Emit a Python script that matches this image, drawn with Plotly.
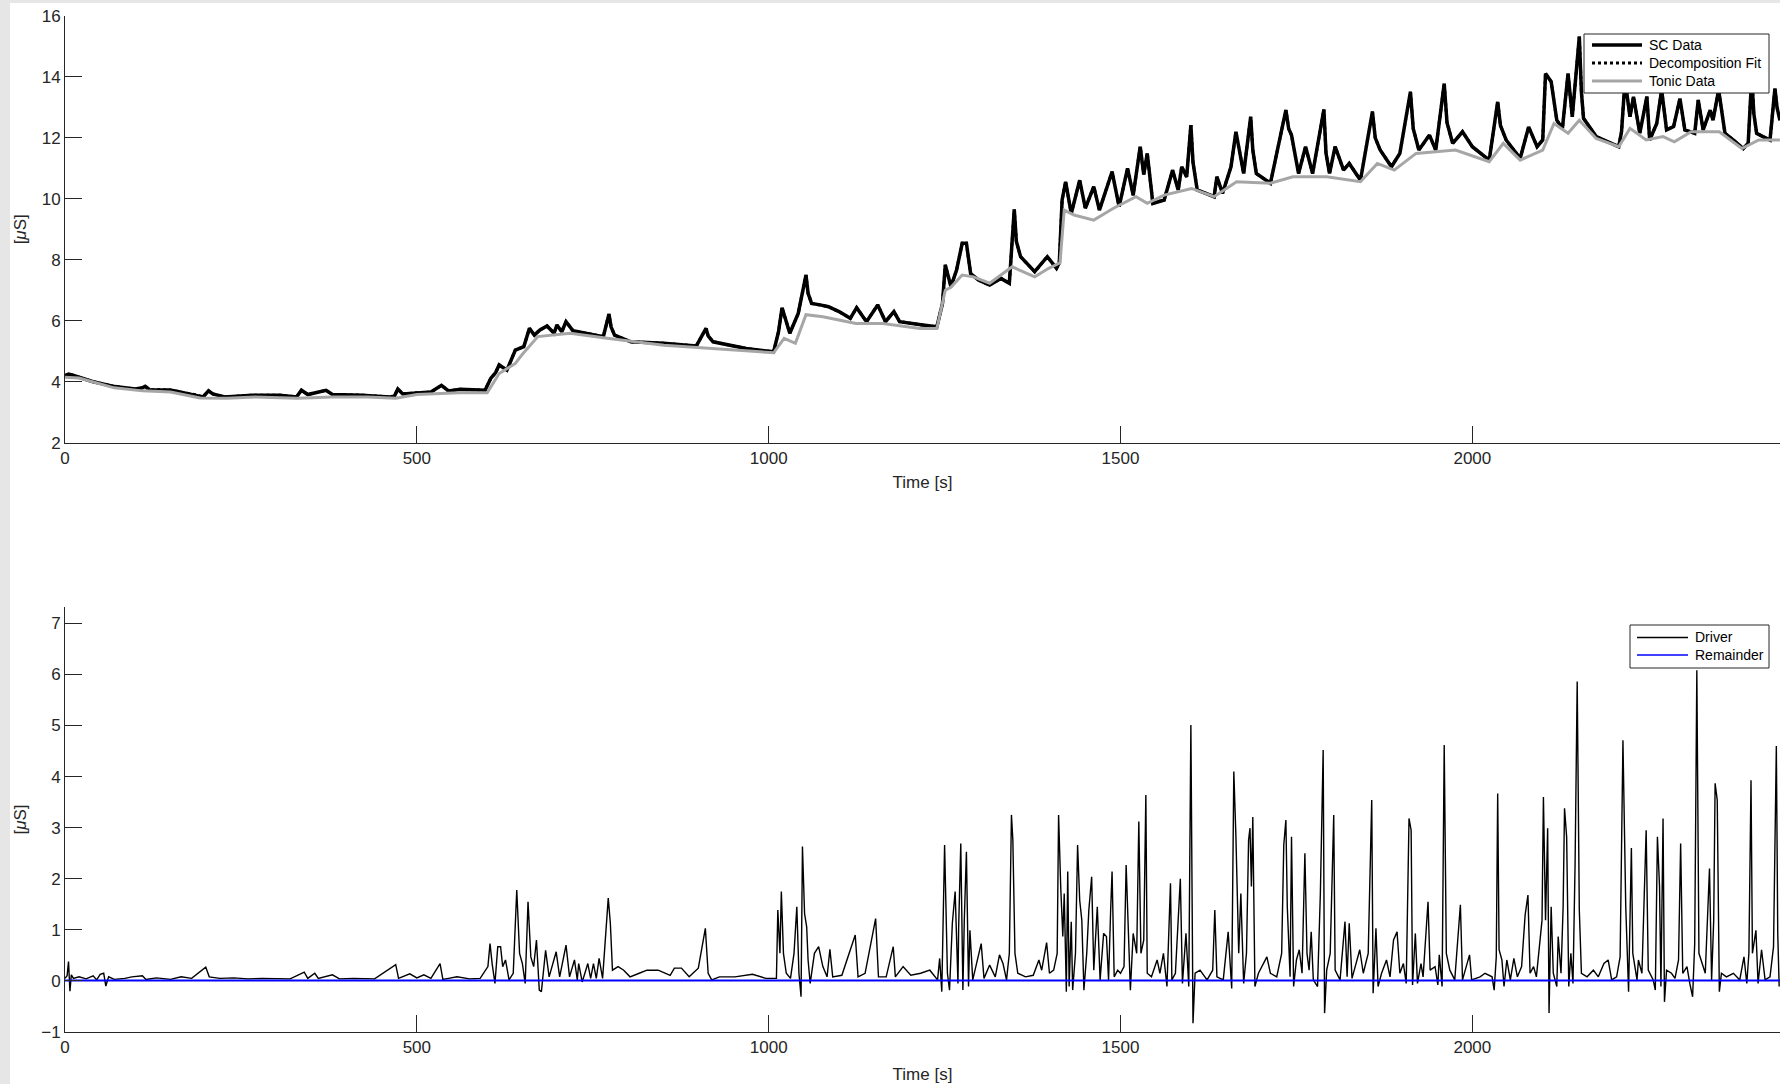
import plotly.graph_objects as go

# ---------------- data ----------------
sc_t = [0, 5, 10, 17, 40, 71, 100, 110, 114, 120, 149, 160, 188, 196, 204, 210, 227, 266, 305, 329,
        336, 345, 371, 380, 422, 461, 468, 473, 480, 500, 520, 535, 545, 562, 597, 605, 612, 617, 628,
        640, 652, 660, 667, 675, 685, 695, 699, 706, 712, 722, 741, 765, 773, 781, 804, 851, 897, 911,
        921, 968, 1007, 1014, 1019, 1030, 1042, 1053, 1061, 1073, 1085, 1100, 1116, 1125, 1139, 1155,
        1166, 1178, 1186, 1219, 1239, 1247, 1251, 1259, 1267, 1275, 1281, 1287, 1298, 1314, 1330, 1342,
        1349, 1358, 1378, 1396, 1409, 1413, 1417, 1422, 1430, 1442, 1450, 1462, 1470, 1488, 1498, 1510,
        1518, 1528, 1533, 1538, 1546, 1562, 1574, 1582, 1587, 1594, 1600, 1609, 1633, 1637, 1645, 1657,
        1664, 1675, 1685, 1693, 1713, 1735, 1743, 1753, 1763, 1773, 1789, 1797, 1805, 1817, 1825, 1841,
        1858, 1869, 1885, 1897, 1912, 1924, 1939, 1948, 1960, 1972, 1986, 2000, 2024, 2036, 2048, 2068,
        2080, 2092, 2100, 2104, 2112, 2120, 2128, 2136, 2142, 2152, 2158, 2176, 2208, 2212, 2217, 2224,
        2229, 2238, 2248, 2252, 2262, 2269, 2276, 2286, 2295, 2302, 2316, 2321, 2328, 2338, 2342, 2350,
        2359, 2371, 2385, 2392, 2397, 2404, 2413, 2423, 2430, 2437]
sc_v = [4.2, 4.25, 4.22, 4.17, 4.0, 3.84, 3.76, 3.8, 3.85, 3.74, 3.73, 3.68, 3.56, 3.5, 3.7, 3.6, 3.5, 3.56,
        3.56, 3.5, 3.72, 3.58, 3.72, 3.58, 3.56, 3.5, 3.52, 3.76, 3.6, 3.64, 3.66, 3.88, 3.7, 3.75, 3.72,
        4.11, 4.3, 4.55, 4.38, 5.04, 5.15, 5.75, 5.53, 5.7, 5.83, 5.59, 5.86, 5.64, 5.97, 5.67, 5.59, 5.48,
        6.22, 5.53, 5.31, 5.26, 5.17, 5.75, 5.31, 5.09, 4.98, 5.64, 6.43, 5.59, 6.24, 7.5, 6.57, 6.52, 6.46,
        6.3, 6.08, 6.43, 5.97, 6.52, 5.97, 6.3, 5.97, 5.86, 5.8, 6.57, 7.83, 7.12, 7.66, 8.54, 8.54, 7.55,
        7.34, 7.17, 7.39, 7.23, 9.65, 8.1, 7.61, 8.1, 7.72, 7.9, 9.96, 10.56, 9.52, 10.61, 9.69, 10.4, 9.63,
        10.89, 9.74, 11.0, 10.12, 11.71, 10.8, 11.49, 9.85, 9.96, 10.94, 10.29, 11.05, 10.72, 12.42, 10.29,
        10.07, 10.72, 10.18, 11.05, 12.2, 10.83, 12.69, 10.83, 10.51, 12.91, 12.09, 10.83, 11.71, 10.83,
        12.93, 10.83, 11.71, 10.94, 11.16, 10.61, 12.86, 11.6, 11.05, 11.49, 13.51, 11.6, 12.09, 11.6,
        13.78, 11.82, 12.2, 11.71, 11.27, 13.18, 11.93, 11.33, 12.36, 11.71, 11.93, 14.11, 13.84, 12.58,
        12.31, 14.11, 12.69, 15.32, 12.64, 12.04, 11.71, 12.2, 13.9, 12.69, 13.35, 12.15, 13.35, 11.93,
        12.47, 13.57, 12.26, 12.37, 13.29, 12.26, 12.15, 13.24, 12.26, 12.91, 12.58, 13.57, 12.15, 11.93,
        11.65, 11.82, 14.0, 12.15, 12.04, 11.93, 13.62, 12.58]
# extra SC readings just after the sharper peaks (the fast decay part)
sc_extra_t = [776, 914, 1056, 1352, 1603, 1688, 1739, 1792, 1862, 1916, 1964, 2040, 2155, 2400, 2433]
sc_extra_v = [5.8, 5.5, 6.9, 8.6, 11.2, 11.6, 12.3, 11.5, 12.0, 12.3, 12.5, 12.4, 13.5, 12.8, 13.0]

tonic_t = [0, 20, 70, 110, 150, 192, 230, 270, 330, 380, 430, 470, 500, 560, 600, 617, 640, 650, 672, 718,
           773, 851, 1007, 1022, 1038, 1053, 1077, 1124, 1162, 1215, 1239, 1251, 1259, 1275, 1291, 1314,
           1346, 1378, 1398, 1414, 1420, 1434, 1462, 1490, 1522, 1538, 1562, 1601, 1633, 1665, 1713, 1745,
           1793, 1841, 1865, 1889, 1920, 1976, 2024, 2044, 2068, 2100, 2116, 2136, 2152, 2176, 2208, 2224,
           2247, 2271, 2287, 2311, 2351, 2383, 2407, 2437]
tonic_v = [4.15, 4.12, 3.8, 3.7, 3.66, 3.47, 3.46, 3.5, 3.46, 3.5, 3.5, 3.46, 3.58, 3.64, 3.64, 4.27, 4.6,
           4.9, 5.48, 5.59, 5.42, 5.2, 4.95, 5.42, 5.26, 6.2, 6.13, 5.91, 5.91, 5.75, 5.75, 7.0, 7.1, 7.5,
           7.44, 7.23, 7.77, 7.44, 7.72, 7.9, 9.63, 9.47, 9.3, 9.69, 10.07, 9.85, 10.12, 10.34, 10.07, 10.56,
           10.51, 10.72, 10.72, 10.56, 11.16, 10.94, 11.49, 11.6, 11.22, 11.82, 11.27, 11.6, 12.47, 12.15,
           12.58, 11.98, 11.71, 12.31, 11.93, 12.04, 11.87, 12.2, 12.2, 11.65, 11.93, 11.93]

driver_t = [0, 3, 5, 7, 9, 12, 20, 30, 40, 45, 50, 55, 58, 62, 70, 85, 95, 110, 115, 130, 150, 165, 180,
            200, 205, 220, 240, 260, 280, 300, 320, 340, 345, 355, 360, 380, 390, 410, 440, 470, 474, 490,
            500, 510, 520, 533, 537, 545, 557, 575, 590,
            601, 604, 607, 611, 615, 619, 622, 626, 631, 637, 642, 646, 650, 654, 658, 662, 666, 670, 674,
            677, 683, 688, 698, 703, 712, 717, 724, 728, 730, 735, 743, 747, 751, 755, 759, 764, 772, 775,
            778, 786, 794, 803, 816, 827, 843, 860, 866, 876, 887, 900, 910, 914, 919, 930, 952, 977, 996,
            1011, 1013, 1016, 1018, 1021, 1025, 1031, 1036, 1040, 1043, 1046, 1048, 1051, 1054, 1056, 1059,
            1065, 1071, 1077, 1083, 1087, 1091, 1104, 1123, 1127, 1137, 1152, 1156, 1167, 1177, 1180, 1191,
            1202, 1216, 1229, 1240, 1243, 1246, 1250, 1254, 1257, 1261, 1265, 1269, 1270, 1273, 1276, 1278,
            1281, 1284, 1286, 1290, 1302, 1306, 1314, 1322, 1328, 1333, 1338, 1342, 1345, 1347, 1350, 1354,
            1365, 1376,
            1384, 1388, 1391, 1395, 1399, 1405, 1410, 1412, 1415, 1418, 1420, 1423, 1425, 1427, 1430, 1432,
            1436, 1439, 1442, 1445, 1448, 1452, 1455, 1459, 1462, 1464, 1467, 1471, 1476, 1480, 1483, 1486,
            1488, 1491, 1496, 1500, 1505, 1508, 1511, 1514, 1518, 1523, 1526, 1529, 1533, 1536, 1538, 1544,
            1552, 1556, 1561, 1566, 1571, 1573, 1578, 1581, 1585, 1588, 1593, 1597, 1600, 1603, 1606, 1613,
            1623, 1631, 1634, 1637, 1646, 1653, 1658, 1661, 1664, 1668, 1671, 1675, 1679, 1682, 1684, 1686,
            1688, 1691, 1696, 1708, 1713, 1722, 1729, 1732, 1735, 1737, 1741, 1743, 1746, 1750, 1754, 1758,
            1762, 1765, 1768, 1771, 1774, 1780, 1784, 1788, 1790, 1793, 1798, 1803, 1805, 1812, 1819, 1822,
            1825, 1829, 1840, 1845, 1852, 1857, 1859, 1863, 1866, 1871, 1878, 1883, 1888, 1893,
            1897, 1902, 1906, 1910, 1913, 1915, 1919, 1922, 1927, 1930, 1937, 1940, 1947, 1951, 1953, 1957,
            1960, 1963, 1968, 1975, 1983, 1986, 1996, 1999, 2011, 2018, 2028, 2031, 2034, 2036, 2038, 2042,
            2045, 2049, 2054, 2059, 2064, 2070, 2075, 2079, 2082, 2087, 2091, 2099, 2101, 2104, 2107, 2109,
            2112, 2115, 2120, 2122, 2126, 2129, 2131, 2134, 2137, 2140, 2143, 2146, 2149, 2152, 2155, 2163,
            2172, 2179, 2187, 2193, 2198, 2205, 2210, 2214, 2216, 2218, 2222, 2226, 2228, 2234, 2236, 2241,
            2247, 2250, 2257, 2260, 2263, 2266, 2268, 2271, 2273, 2276, 2283, 2288, 2293, 2296, 2299, 2305,
            2309, 2313, 2316, 2319, 2322, 2325, 2331, 2337, 2340, 2343, 2345, 2348, 2351, 2354, 2361, 2371,
            2380, 2386, 2390, 2393, 2396, 2398, 2403, 2406, 2411, 2416, 2423, 2428, 2432, 2434, 2436]
driver_v = [0.05, 0.1, 0.38, -0.2, 0.12, 0.05, 0.08, 0.04, 0.1, 0.02, 0.13, 0.15, -0.1, 0.08, 0.03, 0.05,
            0.08, 0.1, 0.03, 0.06, 0.03, 0.08, 0.05, 0.27, 0.08, 0.05, 0.06, 0.04, 0.05, 0.05, 0.04, 0.17,
            0.05, 0.15, 0.05, 0.12, 0.04, 0.05, 0.04, 0.32, 0.05, 0.14, 0.06, 0.12, 0.05, 0.34, 0.03, 0.05,
            0.08, 0.04, 0.05,
            0.28, 0.73, 0.34, -0.05, 0.67, 0.67, 0.28, 0.41, 0.02, 0.15, 1.78, 0.54, 0.34, -0.05, 1.55, 0.47,
            0.28, 0.8, -0.18, -0.21, 0.6, 0.08, 0.57, 0.08, 0.7, 0.08, 0.41, 0.02, 0.34, -0.02, 0.34, 0.05,
            0.34, 0.05, 0.44, 0.05, 1.62, 1.13, 0.21, 0.28, 0.21, 0.08, 0.15, 0.21, 0.21, 0.11, 0.25, 0.25,
            0.08, 0.25, 1.03, 0.15, 0.02, 0.08, 0.08, 0.13, 0.05,
            0.05, 1.39, 0.54, 1.75, 0.54, 0.15, 0.05, 0.54, 1.45, 0.15, -0.31, 2.63, 1.32, 1.06, 0.41, -0.05,
            0.54, 0.67, 0.28, 0.08, 0.62, 0.08, 0.11, 0.9, 0.08, 0.15, 1.22, 0.08, 0.08, 0.67, 0.08, 0.28,
            0.11, 0.15, 0.21, 0.02, 0.44, -0.21, 2.66, 0.15, -0.18, 1.13, 1.75, -0.05, 1.06, 2.69, -0.18, 1.19,
            2.53, -0.11, 0.99, 0.02, 0.73, 0.05, 0.31, 0.08, 0.51, 0.34, 0.02, 0.54, 3.25, 2.76, 0.54, 0.15,
            0.08, 0.11,
            0.41, 0.21, 0.41, 0.75, 0.15, 0.21, 0.54, 3.25, 1.85, 0.87, 1.71, -0.21, 2.14, -0.11, 1.16, -0.18,
            0.54, 2.66, 1.58, 1.19, -0.18, 0.54, 1.39, 2.04, 0.21, 0.8, 1.45, 0.02, 0.93, 0.87, 0.02, 1.39,
            2.14, 0.08, 0.21, 0.15, 0.28, 2.27, 1.19, -0.18, 0.93, 0.54, 3.12, 0.54, 0.8, 3.64, 0.15, 0.08,
            0.41, 0.15, 0.54, -0.11, 1.91, 0.02, 0.15, 0.93, 2.0, -0.05, 0.93, -0.11, 5.01, -0.83, 0.15, 0.21,
            0.02, 0.21, 1.39, 0.08, 0.02, 0.96, -0.15, 4.1, 2.82, 0.54, 1.71, -0.05, 0.54, 2.76, 2.99, 1.85,
            3.21, -0.11, 0.15, 0.47, 0.15, 0.08, 0.54, 2.66, 3.15, 1.45, 0.08, 2.82, -0.11, 0.41, 0.61, 0.15,
            2.5, 0.54, 0.21, 0.96, 0.02, -0.11, 1.71, 4.52, -0.63, 0.21, 0.54, 3.25, 0.21, 0.02, 1.16, 0.08,
            1.13, 0.05, 0.61, 0.15, 0.54, 3.54, -0.24, 1.03, -0.11, 0.15, 0.41, 0.08, 0.8, 0.96,
            0.15, 0.34, -0.05, 3.18, 2.95, -0.08, 0.93, -0.05, 0.34, 0.08, 1.55, 0.21, 0.28, -0.08, 0.51, -0.11,
            4.62, 0.54, 0.21, 0.02, 1.49, 0.02, 0.51, 0.02, 0.08, 0.15, 0.08, -0.18, 0.47, 3.67, 0.61, 0.41,
            -0.11, 0.41, 0.02, 0.44, 0.08, 0.28, 1.29, 1.68, 0.15, 0.28, 0.08, 1.19, 3.6, 1.19, 2.99, -0.63,
            1.45, 0.15, -0.11, 0.87, 0.15, 1.45, 3.38, 2.82, -0.11, 0.54, -0.05, 2.3, 5.86, 1.39, 0.15, 0.08,
            0.21, 0.08, 0.34, 0.41, 0.02, 0.08, 0.47, 4.71, 3.35, 1.45, -0.21, 2.6, 0.54, 0.02, 0.41, 0.15,
            2.95, 0.21, 0.02, -0.18, 2.82, 1.85, -0.11, 3.18, -0.41, 0.21, 0.15, 0.05, 0.41, 2.69, 0.15, 0.28,
            -0.05, -0.31, 0.73, 6.08, 0.54, 0.41, 0.15, 2.2, 0.02, 1.19, 3.87, 3.54, -0.21, 0.15, 0.08, 0.15,
            0.02, 0.47, -0.05, 0.54, 3.93, 0.54, 0.99, -0.05, 0.61, 0.02, 0.08, 0.67, 4.6, 0.93, -0.11]

remainder_t = [0, 2437]
remainder_v = [0.01, 0.01]

x_ticks = [0, 500, 1000, 1500, 2000]
top_y_ticks = [2, 4, 6, 8, 10, 12, 14, 16]
bottom_y_ticks = [-1, 0, 1, 2, 3, 4, 5, 6, 7]

# merge the SC readings in time order
sc_pts = sorted(zip(sc_t + sc_extra_t, sc_v + sc_extra_v))
sc_x = [p[0] for p in sc_pts]
sc_y = [p[1] for p in sc_pts]

# ---------------- figure ----------------
W, H = 1780, 1084
ML = 65
PW = W - ML
FONT = "Liberation Sans, Arial, Helvetica, sans-serif"
AX = "#262626"


def py(s):
    return 1 - s / H


def px(x):
    return (x - ML) / PW


fig = go.Figure()
fig.add_trace(go.Scatter(x=sc_x, y=sc_y, mode="lines", name="SC Data", showlegend=False,
                         line=dict(color="black", width=3.5), xaxis="x", yaxis="y"))
fig.add_trace(go.Scatter(x=sc_x, y=sc_y, mode="lines", name="Decomposition Fit", showlegend=False,
                         line=dict(color="black", width=3, dash="dot"), xaxis="x", yaxis="y"))
fig.add_trace(go.Scatter(x=tonic_t, y=tonic_v, mode="lines", name="Tonic Data", showlegend=False,
                         line=dict(color="#a6a6a6", width=3), xaxis="x", yaxis="y"))
fig.add_trace(go.Scatter(x=driver_t, y=driver_v, mode="lines", name="Driver", showlegend=False,
                         line=dict(color="black", width=1.4), xaxis="x2", yaxis="y2"))
fig.add_trace(go.Scatter(x=remainder_t, y=remainder_v, mode="lines", name="Remainder", showlegend=False,
                         line=dict(color="#0000ff", width=2), xaxis="x2", yaxis="y2"))

axis_common = dict(showline=True, linecolor=AX, linewidth=1, ticks="inside", ticklen=17,
                   tickcolor=AX, tickwidth=1, showgrid=False, zeroline=False, automargin=False,
                   tickfont=dict(family=FONT, size=17, color=AX), mirror=False)
title_font = dict(family=FONT, size=17, color=AX)
xr = [0, 2437.2]

# legend boxes (framed box, line samples, labels)
shapes = [
    dict(type="rect", xref="paper", yref="paper", x0=px(0), x1=px(10), y0=0, y1=1,
         fillcolor="#e6e6e6", line=dict(width=0), layer="above"),
    dict(type="rect", xref="paper", yref="paper", x0=px(0), x1=1, y0=py(3), y1=1,
         fillcolor="#e6e6e6", line=dict(width=0), layer="above"),
    dict(type="rect", xref="paper", yref="paper", x0=px(1584), x1=px(1769), y0=py(93), y1=py(34),
         fillcolor="white", line=dict(color=AX, width=1), layer="above"),
    dict(type="rect", xref="paper", yref="paper", x0=px(1630), x1=px(1769), y0=py(668), y1=py(625),
         fillcolor="white", line=dict(color=AX, width=1), layer="above"),
]
legend_top = [("SC Data", 45, dict(color="black", width=3.5)),
              ("Decomposition Fit", 63, dict(color="black", width=3, dash="dot")),
              ("Tonic Data", 81, dict(color="#a6a6a6", width=3))]
legend_bot = [("Driver", 637.5, dict(color="black", width=1.5)),
              ("Remainder", 655, dict(color="#0000ff", width=1.5))]
annotations = []
for name, y, ln in legend_top:
    shapes.append(dict(type="line", xref="paper", yref="paper", x0=px(1592), x1=px(1642),
                       y0=py(y), y1=py(y), line=ln, layer="above"))
    annotations.append(dict(text=name, xref="paper", yref="paper", x=px(1647), y=py(y),
                            xanchor="left", yanchor="middle", showarrow=False,
                            font=dict(family=FONT, size=14, color="black")))
for name, y, ln in legend_bot:
    shapes.append(dict(type="line", xref="paper", yref="paper", x0=px(1637), x1=px(1688),
                       y0=py(y), y1=py(y), line=ln, layer="above"))
    annotations.append(dict(text=name, xref="paper", yref="paper", x=px(1693), y=py(y),
                            xanchor="left", yanchor="middle", showarrow=False,
                            font=dict(family=FONT, size=14, color="black")))

fig.update_layout(
    width=W, height=H,
    margin=dict(l=ML, r=0, t=0, b=0, autoexpand=False),
    paper_bgcolor="white", plot_bgcolor="white",
    font=dict(family=FONT, color=AX),
    showlegend=False,
    xaxis=dict(domain=[0, 1], anchor="y", range=xr, tickvals=x_ticks,
               title=dict(text="Time [s]", font=title_font, standoff=9), **axis_common),
    yaxis=dict(domain=[py(442.7), py(15.9)], anchor="x", range=[2, 16], tickvals=top_y_ticks,
               title=dict(text="[<i>μ</i>S]", font=title_font, standoff=10), **axis_common),
    xaxis2=dict(domain=[0, 1], anchor="y2", range=xr, tickvals=x_ticks,
                title=dict(text="Time [s]", font=title_font, standoff=11), **axis_common),
    yaxis2=dict(domain=[py(1032), py(607)], anchor="x2", range=[-1, 7.32], tickvals=bottom_y_ticks,
                title=dict(text="[<i>μ</i>S]", font=title_font, standoff=10), **axis_common),
    shapes=shapes,
    annotations=annotations,
)

fig.write_html("out.html", config=dict(displayModeBar=False),
               post_script="document.body.style.margin='0';document.body.style.overflow='hidden';")
